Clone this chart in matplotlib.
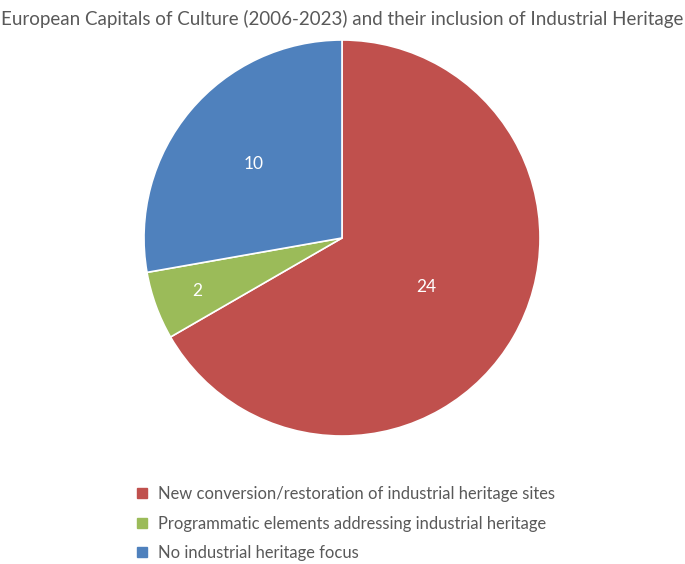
import numpy as np
import matplotlib
matplotlib.use("Agg")
import matplotlib.pyplot as plt
from matplotlib.lines import Line2D

title = "European Capitals of Culture (2006-2023) and their inclusion of Industrial Heritage"
categories = [
    "New conversion/restoration of industrial heritage sites",
    "Programmatic elements addressing industrial heritage",
    "No industrial heritage focus",
]
counts = [24, 2, 10]
colors = ["#C0504D", "#9BBB59", "#4F81BD"]
label_dist = [0.49, 0.78, 0.58]

plt.rcParams["font.family"] = ["Lato", "DejaVu Sans"]
textcol = "#595959"

fig = plt.figure(figsize=(6.85, 5.64), dpi=100)

# pie box: 396 px square, left edge at 144 px, bottom at 436 px from top
ax = fig.add_axes([144 / 685, (564 - 436) / 564, 396 / 685, 396 / 564])
wedges, _ = ax.pie(counts, colors=colors, startangle=90, counterclock=False,
                   radius=1, wedgeprops=dict(edgecolor="white", linewidth=1.2))
ax.set_xlim(-1, 1)
ax.set_ylim(-1, 1)
ax.set_aspect("equal")
ax.axis("off")

for w, n, d in zip(wedges, counts, label_dist):
    mid = np.deg2rad((w.theta1 + w.theta2) / 2)
    ax.text(d * np.cos(mid), d * np.sin(mid), str(n), color="white",
            fontsize=12.5, ha="center", va="center")

fig.text(0.5, 1 - 19 / 564, title, ha="center", va="center",
         fontsize=13.5, color=textcol)

handles = [Line2D([], [], marker="s", linestyle="none", markersize=6.5,
                  markerfacecolor=c, markeredgecolor=c) for c in colors]
fig.legend(handles, categories, loc="upper left",
           bbox_to_anchor=(135 / 685, 1 - 486 / 564), frameon=False,
           fontsize=11.9, labelcolor=textcol, handlelength=0.8,
           handletextpad=0.6, labelspacing=0.82, borderpad=0, borderaxespad=0)

fig.savefig("out.png", dpi=100)
